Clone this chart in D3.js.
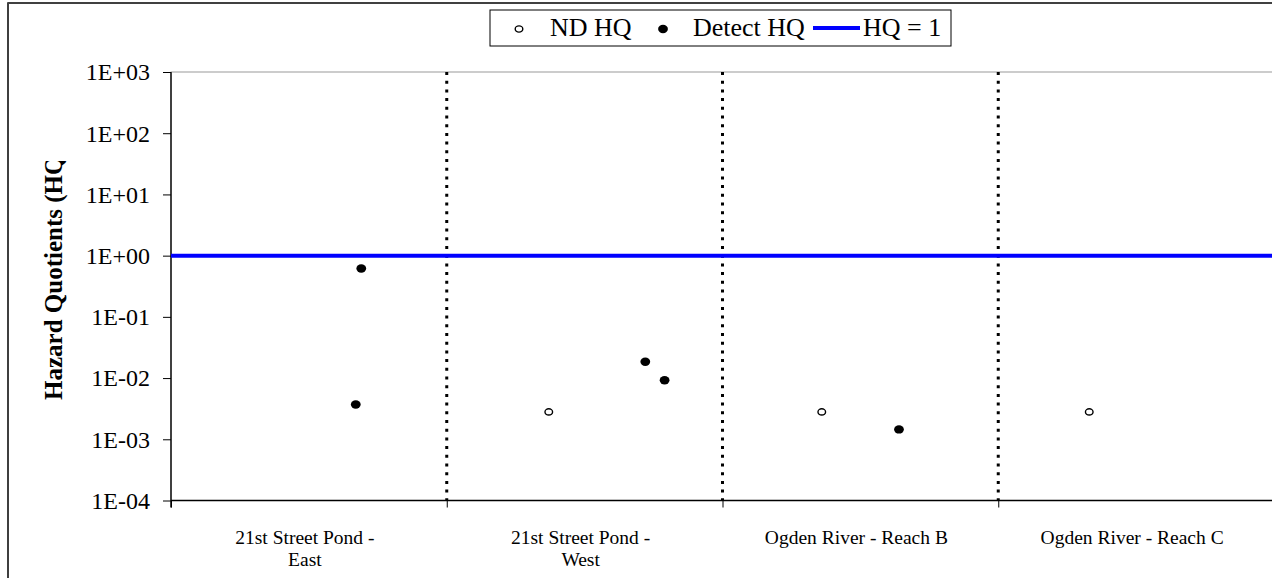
<!DOCTYPE html>
<html>
<head>
<meta charset="utf-8">
<script src="https://cdn.jsdelivr.net/npm/d3@7"></script>
<style>
  html, body { margin: 0; padding: 0; background: #fff; }
  svg { display: block; }
  text { font-family: "Liberation Serif", "Times New Roman", serif; fill: #000; }
</style>
</head>
<body>
<svg id="chart" width="1272" height="578"></svg>
<script>
// Sampling areas along the x axis (one band per area)
const categories = ["21st Street Pond - East", "21st Street Pond - West", "Ogden River - Reach B", "Ogden River - Reach C"];
const categoryLines = [["21st Street Pond -", "East"], ["21st Street Pond -", "West"], ["Ogden River - Reach B"], ["Ogden River - Reach C"]];

// Non-detect hazard quotients (x = position inside the area bands)
const ndX  = [1.37, 2.36, 3.33];
const ndHQ = [0.0028, 0.0028, 0.0028];

// Detected hazard quotients
const detectX  = [0.67, 0.69, 1.72, 1.79, 2.64];
const detectHQ = [0.0037, 0.615, 0.0185, 0.0092, 0.00145];

// Reference level
const thresholdHQ = 1;

// Axis ticks
const yTicks = [1e-4, 1e-3, 1e-2, 1e-1, 1e0, 1e1, 1e2, 1e3];
const bandEdges = [0, 1, 2, 3, 4];

const SERIF = "Liberation Serif, Times New Roman, serif";
const svg = d3.select("#chart");
const W = 1272, H = 578;
const plot = { left: 171, right: 1274, top: 72, bottom: 500.5 };

const x = d3.scaleLinear().domain([0, categories.length]).range([plot.left, plot.right]);
const y = d3.scaleLog().domain([1e-4, 1e3]).range([plot.bottom, plot.top]);

const fmtE = d => {
  const e = Math.round(Math.log10(d));
  return "1E" + (e < 0 ? "-" : "+") + String(Math.abs(e)).padStart(2, "0");
};

// outer chart frame
svg.append("rect")
  .attr("x", 8).attr("y", 3).attr("width", W + 20).attr("height", H + 20)
  .attr("fill", "none").attr("stroke", "#000").attr("stroke-width", 1.5);
svg.append("line")
  .attr("x1", 8).attr("x2", W).attr("y1", 3).attr("y2", 3)
  .attr("stroke", "#404040").attr("stroke-width", 2);

// plot area border
svg.append("rect")
  .attr("x", plot.left).attr("y", plot.top)
  .attr("width", plot.right - plot.left).attr("height", plot.bottom - plot.top)
  .attr("fill", "none").attr("stroke", "#9a9a9a").attr("stroke-width", 1);

// dotted separators between areas
svg.append("g").selectAll("line")
  .data(bandEdges.slice(1, -1))
  .join("line")
  .attr("x1", d => x(d)).attr("x2", d => x(d))
  .attr("y1", plot.top).attr("y2", plot.bottom)
  .attr("stroke", "#000").attr("stroke-width", 3)
  .attr("stroke-dasharray", "3,5.7");

// y axis
const yAxis = svg.append("g")
  .attr("transform", `translate(${plot.left},0)`)
  .call(d3.axisLeft(y).tickValues(yTicks).tickFormat(fmtE).tickSize(8).tickPadding(13));
yAxis.attr("font-family", SERIF);
yAxis.select(".domain").attr("stroke", "#404040").attr("stroke-width", 2)
  .attr("d", `M0,${plot.top}V${plot.bottom + 7}`);
yAxis.selectAll(".tick line").attr("stroke", "#000").attr("stroke-width", 1);
yAxis.selectAll(".tick text")
  .attr("font-family", SERIF)
  .attr("font-size", 24)
  .attr("dy", "0.33em");

// x axis
const xAxis = svg.append("g")
  .attr("transform", `translate(0,${plot.bottom})`)
  .call(d3.axisBottom(x).tickValues(bandEdges).tickFormat("").tickSize(7));
xAxis.select(".domain").attr("stroke", "#000").attr("stroke-width", 1.5)
  .attr("d", `M${plot.left},0H${plot.right}`);
xAxis.selectAll(".tick line").attr("stroke", "#000").attr("stroke-width", 1);

// area labels
const lab = svg.append("g").selectAll("text")
  .data(categoryLines)
  .join("text")
  .attr("text-anchor", "middle")
  .attr("font-family", SERIF)
  .attr("font-size", 19.5)
  .attr("transform", (d, i) => `translate(${x(i + 0.5) - 4},544)`);
lab.selectAll("tspan")
  .data(d => d)
  .join("tspan")
  .attr("x", 0)
  .attr("dy", (d, i) => i === 0 ? 0 : 22)
  .text(d => d);

// HQ = 1 reference line
svg.append("line")
  .attr("x1", plot.left).attr("x2", plot.right)
  .attr("y1", y(thresholdHQ)).attr("y2", y(thresholdHQ))
  .attr("stroke", "#0000ff").attr("stroke-width", 4);

// non-detect points (open)
svg.append("g").selectAll("ellipse")
  .data(ndX.map((v, i) => [v, ndHQ[i]]))
  .join("ellipse")
  .attr("cx", d => x(d[0])).attr("cy", d => y(d[1]))
  .attr("rx", 3.8).attr("ry", 3.1)
  .attr("fill", "#fff").attr("stroke", "#000").attr("stroke-width", 1.4);

// detected points (filled)
svg.append("g").selectAll("ellipse")
  .data(detectX.map((v, i) => [v, detectHQ[i]]))
  .join("ellipse")
  .attr("cx", d => x(d[0])).attr("cy", d => y(d[1]))
  .attr("rx", 4.9).attr("ry", 4.2)
  .attr("fill", "#000");

// y axis title, cut at the top by its text box
svg.append("clipPath").attr("id", "ytitle-clip")
  .attr("clipPathUnits", "userSpaceOnUse")
  .append("rect").attr("x", 0).attr("y", 161).attr("width", 120).attr("height", 400);
svg.append("g")
  .attr("clip-path", "url(#ytitle-clip)")
  .append("text")
  .attr("transform", "translate(62,400) rotate(-90)")
  .attr("text-anchor", "start")
  .attr("font-family", SERIF)
  .attr("font-weight", "bold")
  .attr("font-size", 25)
  .text("Hazard Quotients (HQs)");

// legend
const leg = svg.append("g").attr("font-family", SERIF);
leg.append("rect")
  .attr("x", 490).attr("y", 10).attr("width", 461).attr("height", 36)
  .attr("fill", "#fff").attr("stroke", "#000").attr("stroke-width", 1);
leg.append("ellipse").attr("cx", 519).attr("cy", 29).attr("rx", 3.8).attr("ry", 3.1)
  .attr("fill", "#fff").attr("stroke", "#000").attr("stroke-width", 1.4);
leg.append("text").attr("x", 550).attr("y", 36).attr("font-size", 26).text("ND HQ");
leg.append("ellipse").attr("cx", 663).attr("cy", 29).attr("rx", 4.9).attr("ry", 4.2)
  .attr("fill", "#000");
leg.append("text").attr("x", 693).attr("y", 36).attr("font-size", 26).text("Detect HQ");
leg.append("line").attr("x1", 813).attr("x2", 860).attr("y1", 28).attr("y2", 28)
  .attr("stroke", "#0000ff").attr("stroke-width", 4);
leg.append("text").attr("x", 863).attr("y", 36).attr("font-size", 26).text("HQ = 1");
</script>
</body>
</html>
